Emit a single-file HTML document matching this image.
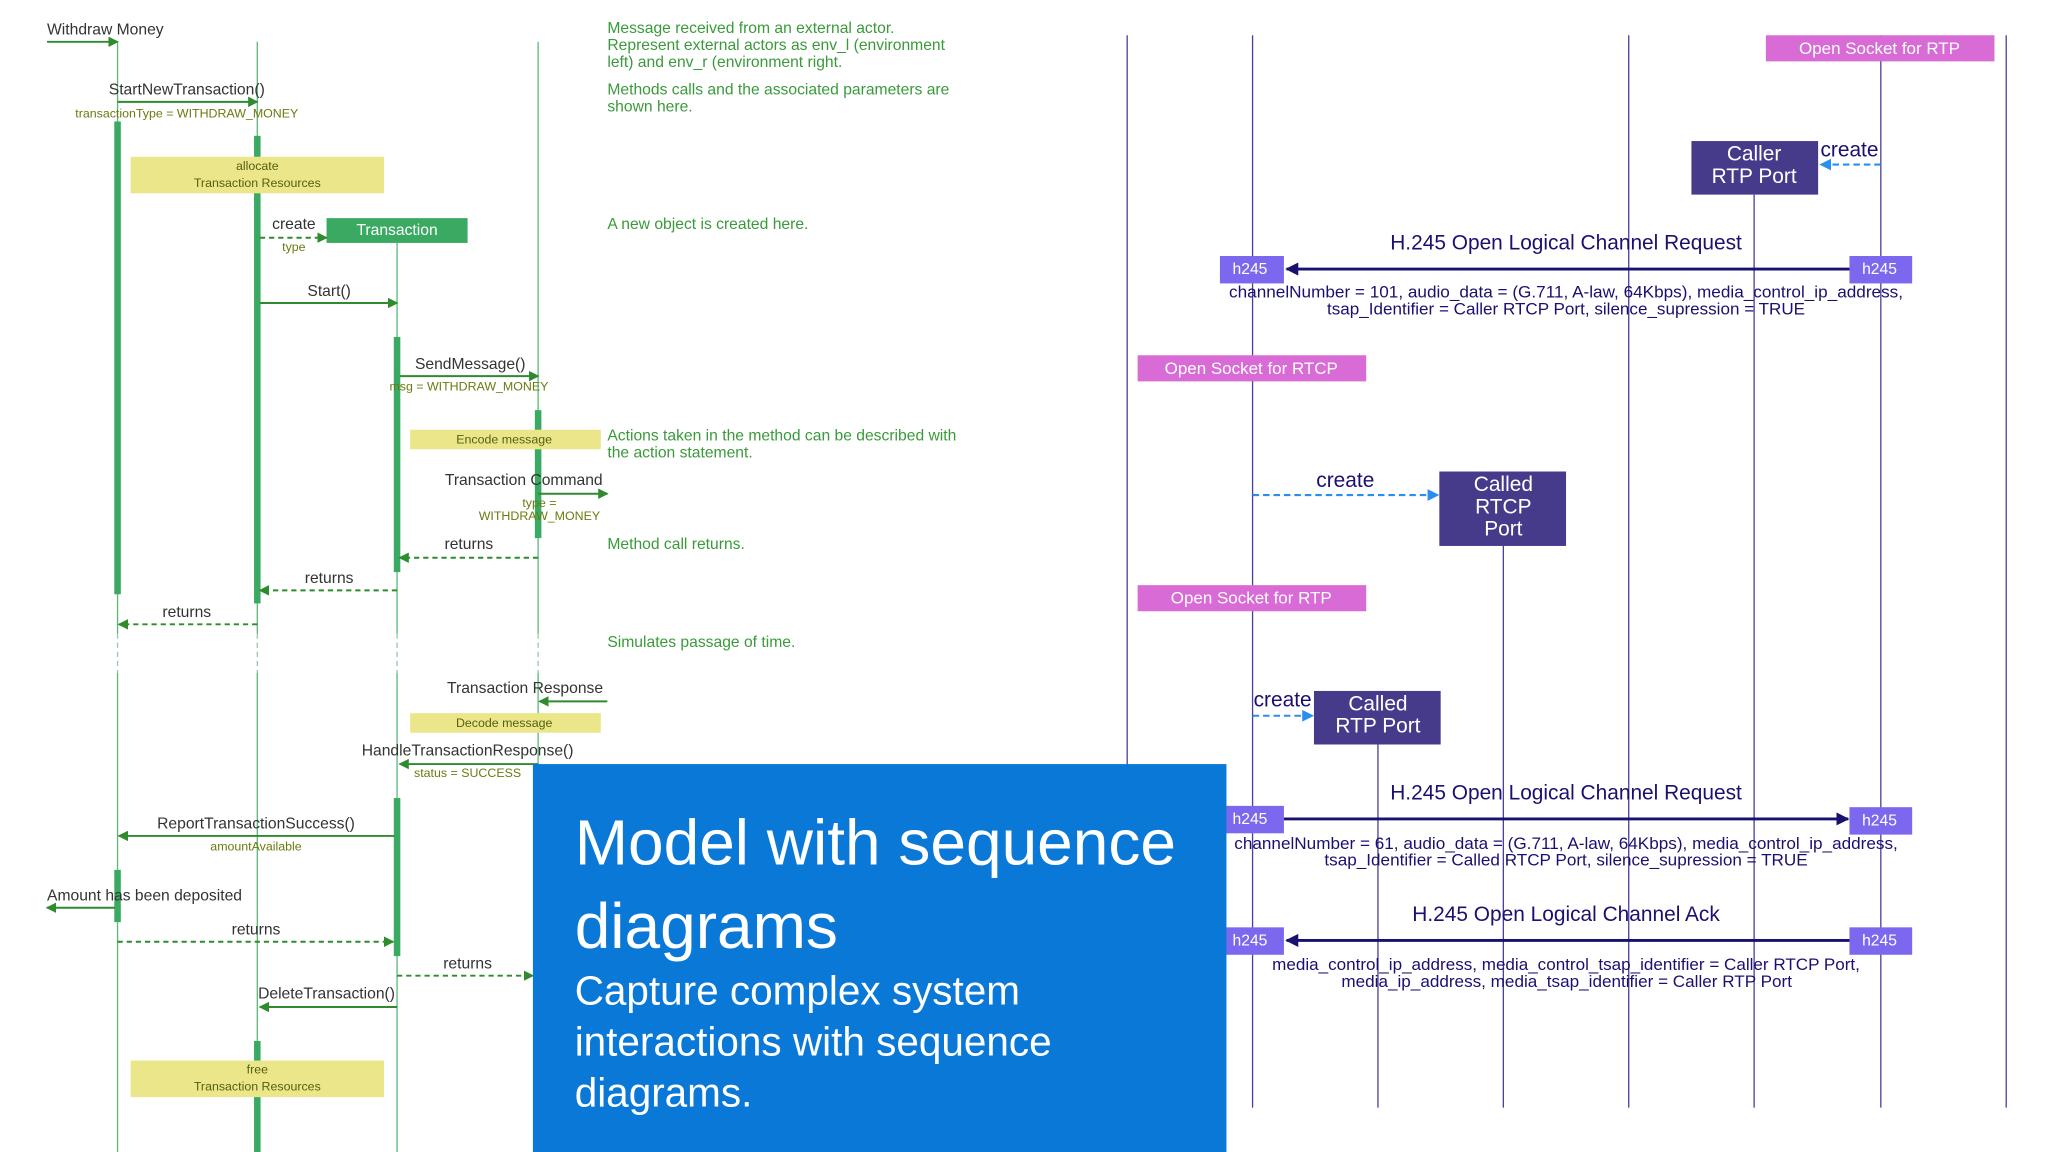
<!DOCTYPE html>
<html><head><meta charset="utf-8"><style>
html,body{margin:0;padding:0;background:#fff;width:2048px;height:1152px;overflow:hidden}
svg{display:block}
text{font-family:"Liberation Sans",sans-serif}
.g{fill:#333;font-size:12px}
.p{fill:#6b7a10;font-size:9.5px}
.n{fill:#3a9a3a;font-size:12px}
.b{fill:#1a1070;font-size:12.5px}
.w{fill:#fff}
</style></head><body>
<svg width="2048" height="1152" viewBox="0 0 1568 882" xmlns="http://www.w3.org/2000/svg">
<defs>
<marker id="ag" markerWidth="8" markerHeight="8" refX="7" refY="4" orient="auto" markerUnits="userSpaceOnUse"><path d="M0,0 L8,4 L0,8 z" fill="#2e8b2e"/></marker>
<marker id="an" markerWidth="10" markerHeight="10" refX="9" refY="5" orient="auto" markerUnits="userSpaceOnUse"><path d="M0,0 L10,5 L0,10 z" fill="#1a1070"/></marker>
<marker id="ab" markerWidth="9" markerHeight="9" refX="8" refY="4.5" orient="auto" markerUnits="userSpaceOnUse"><path d="M0,0 L9,4.5 L0,9 z" fill="#2a8ef0"/></marker>
</defs>
<rect width="1568" height="882" fill="#fff"/>

<g stroke="#5cb87a" stroke-width="1">
<line x1="90" y1="32" x2="90" y2="485"/><line x1="90" y1="515" x2="90" y2="882"/>
<line x1="197" y1="32" x2="197" y2="485"/><line x1="197" y1="515" x2="197" y2="882"/>
<line x1="304" y1="186" x2="304" y2="485"/><line x1="304" y1="515" x2="304" y2="882"/>
<line x1="412" y1="32" x2="412" y2="485"/><line x1="412" y1="515" x2="412" y2="585"/>
</g>
<g stroke="#9ac9a8" stroke-width="1" stroke-dasharray="4,3">
<line x1="90" y1="485" x2="90" y2="515"/><line x1="197" y1="485" x2="197" y2="515"/>
<line x1="304" y1="485" x2="304" y2="515"/><line x1="412" y1="485" x2="412" y2="515"/>
</g>
<g fill="#3aaa62">
<rect x="87.5" y="93" width="5" height="362"/><rect x="87.5" y="666" width="5" height="40"/>
<rect x="194.5" y="104" width="5" height="358"/><rect x="194.5" y="797" width="5" height="85"/>
<rect x="301.5" y="258" width="5" height="180"/><rect x="301.5" y="611" width="5" height="121"/>
<rect x="409.5" y="314" width="5" height="98"/>
</g>

<g fill="#ece68a">
<rect x="100" y="120" width="194" height="28"/><rect x="100" y="812" width="194" height="28"/>
<rect x="314" y="329" width="146" height="15"/><rect x="314" y="546" width="146" height="15"/>
</g>
<g text-anchor="middle" dominant-baseline="central" style="fill:#556010;font-size:9.5px">
<text x="197" y="127">allocate</text><text x="197" y="140">Transaction Resources</text>
<text x="197" y="819">free</text><text x="197" y="832">Transaction Resources</text>
<text x="386" y="336.5">Encode message</text><text x="386" y="553.5">Decode message</text>
</g>

<rect x="250" y="167" width="108" height="19" fill="#3aaa62"/>
<text x="304" y="176.5" class="w" font-size="12" text-anchor="middle" dominant-baseline="central">Transaction</text>

<g stroke="#2e8b2e" stroke-width="1.5" fill="none">
<line x1="36" y1="32" x2="90" y2="32" marker-end="url(#ag)"/>
<line x1="90" y1="78" x2="197" y2="78" marker-end="url(#ag)"/>
<line x1="199" y1="182" x2="250" y2="182" stroke-dasharray="4,3" marker-end="url(#ag)"/>
<line x1="199" y1="232" x2="304" y2="232" marker-end="url(#ag)"/>
<line x1="306" y1="288" x2="412" y2="288" marker-end="url(#ag)"/>
<line x1="412" y1="378" x2="465" y2="378" marker-end="url(#ag)"/>
<line x1="412" y1="427" x2="306" y2="427" stroke-dasharray="4,3" marker-end="url(#ag)"/>
<line x1="304" y1="452" x2="199" y2="452" stroke-dasharray="4,3" marker-end="url(#ag)"/>
<line x1="197" y1="478" x2="91" y2="478" stroke-dasharray="4,3" marker-end="url(#ag)"/>
<line x1="465" y1="537" x2="413" y2="537" marker-end="url(#ag)"/>
<line x1="412" y1="585" x2="306" y2="585" marker-end="url(#ag)"/>
<line x1="302" y1="640" x2="91" y2="640" marker-end="url(#ag)"/>
<line x1="88" y1="695" x2="36" y2="695" marker-end="url(#ag)"/>
<line x1="90" y1="721" x2="301" y2="721" stroke-dasharray="4,3" marker-end="url(#ag)"/>
<line x1="304" y1="747" x2="408" y2="747" stroke-dasharray="4,3" marker-end="url(#ag)"/>
<line x1="304" y1="771" x2="199" y2="771" marker-end="url(#ag)"/>
</g>

<g class="g" text-anchor="middle" dominant-baseline="central">
<text x="36" y="23" text-anchor="start">Withdraw Money</text>
<text x="143" y="69">StartNewTransaction()</text>
<text x="225" y="172">create</text>
<text x="252" y="223">Start()</text>
<text x="360" y="279">SendMessage()</text>
<text x="401" y="368">Transaction Command</text>
<text x="359" y="417">returns</text>
<text x="252" y="443">returns</text>
<text x="143" y="469">returns</text>
<text x="402" y="527">Transaction Response</text>
<text x="358" y="575">HandleTransactionResponse()</text>
<text x="196" y="631">ReportTransactionSuccess()</text>
<text x="36" y="686" text-anchor="start">Amount has been deposited</text>
<text x="196" y="712">returns</text>
<text x="358" y="738">returns</text>
<text x="250" y="761">DeleteTransaction()</text>
</g>
<g class="p" text-anchor="middle" dominant-baseline="central">
<text x="143" y="87">transactionType = WITHDRAW_MONEY</text>
<text x="225" y="189">type</text>
<text x="359" y="296">msg = WITHDRAW_MONEY</text>
<text x="413" y="385">type =</text>
<text x="413" y="395">WITHDRAW_MONEY</text>
<text x="358" y="592">status = SUCCESS</text>
<text x="196" y="648">amountAvailable</text>
</g>
<g class="n" dominant-baseline="central">
<text x="465" y="22">Message received from an external actor.</text>
<text x="465" y="35">Represent external actors as env_l (environment</text>
<text x="465" y="48">left) and env_r (environment right.</text>
<text x="465" y="69">Methods calls and the associated parameters are</text>
<text x="465" y="82">shown here.</text>
<text x="465" y="172">A new object is created here.</text>
<text x="465" y="334">Actions taken in the method can be described with</text>
<text x="465" y="347">the action statement.</text>
<text x="465" y="417">Method call returns.</text>
<text x="465" y="492">Simulates passage of time.</text>
</g>

<g stroke="#4a3f9a" stroke-width="1">
<line x1="863" y1="27" x2="863" y2="848"/>
<line x1="959" y1="27" x2="959" y2="848"/>
<line x1="1055" y1="570" x2="1055" y2="848"/>
<line x1="1151" y1="418" x2="1151" y2="848"/>
<line x1="1247" y1="27" x2="1247" y2="848"/>
<line x1="1343" y1="149" x2="1343" y2="848"/>
<line x1="1440" y1="27" x2="1440" y2="848"/>
<line x1="1536" y1="27" x2="1536" y2="848"/>
</g>
<g fill="#d96bd6">
<rect x="1352" y="27" width="175" height="20"/>
<rect x="871" y="272" width="175" height="20"/>
<rect x="871" y="448" width="175" height="20"/>
</g>
<g class="w" font-size="13" text-anchor="middle" dominant-baseline="central">
<text x="1439" y="37">Open Socket for RTP</text>
<text x="958" y="282">Open Socket for RTCP</text>
<text x="958" y="458">Open Socket for RTP</text>
</g>
<g fill="#463a8a">
<rect x="1295" y="108" width="97" height="41"/>
<rect x="1102" y="361" width="97" height="57"/>
<rect x="1006" y="529" width="97" height="41"/>
</g>
<g class="w" font-size="16" text-anchor="middle" dominant-baseline="central">
<text x="1343" y="118">Caller</text><text x="1343" y="135">RTP Port</text>
<text x="1151" y="371">Called</text><text x="1151" y="388">RTCP</text><text x="1151" y="405">Port</text>
<text x="1055" y="539">Called</text><text x="1055" y="556">RTP Port</text>
</g>
<g stroke="#2a8ef0" stroke-width="1.6" stroke-dasharray="5,3">
<line x1="1440" y1="126" x2="1394" y2="126" marker-end="url(#ab)"/>
<line x1="959" y1="379" x2="1101" y2="379" marker-end="url(#ab)"/>
<line x1="959" y1="548" x2="1005" y2="548" marker-end="url(#ab)"/>
</g>
<g fill="#1a1070" font-size="16" text-anchor="middle" dominant-baseline="central">
<text x="1416" y="115">create</text><text x="1030" y="368">create</text><text x="982" y="536">create</text>
<text x="1199" y="186">H.245 Open Logical Channel Request</text>
<text x="1199" y="607">H.245 Open Logical Channel Request</text>
<text x="1199" y="700">H.245 Open Logical Channel Ack</text>
</g>
<g stroke="#1a1070" stroke-width="2.2">
<line x1="1416" y1="206" x2="985" y2="206" marker-end="url(#an)"/>
<line x1="983" y1="627" x2="1415" y2="627" marker-end="url(#an)"/>
<line x1="1416" y1="720" x2="985" y2="720" marker-end="url(#an)"/>
</g>
<g class="b" dominant-baseline="central" lengthAdjust="spacingAndGlyphs">
<text x="941" y="224" textLength="516" lengthAdjust="spacingAndGlyphs">channelNumber = 101, audio_data = (G.711, A-law, 64Kbps), media_control_ip_address,</text>
<text x="1016" y="237" textLength="366" lengthAdjust="spacingAndGlyphs">tsap_Identifier = Caller RTCP Port, silence_supression = TRUE</text>
<text x="945" y="646" textLength="508" lengthAdjust="spacingAndGlyphs">channelNumber = 61, audio_data = (G.711, A-law, 64Kbps), media_control_ip_address,</text>
<text x="1014" y="659" textLength="370" lengthAdjust="spacingAndGlyphs">tsap_Identifier = Called RTCP Port, silence_supression = TRUE</text>
<text x="974" y="739" textLength="450" lengthAdjust="spacingAndGlyphs">media_control_ip_address, media_control_tsap_identifier = Caller RTCP Port,</text>
<text x="1027" y="752" textLength="345" lengthAdjust="spacingAndGlyphs">media_ip_address, media_tsap_identifier = Caller RTP Port</text>
</g>
<g fill="#7b68ee">
<rect x="934" y="196" width="49" height="21"/><rect x="1416" y="196" width="48" height="21"/>
<rect x="934" y="617" width="49" height="21"/><rect x="1416" y="618" width="48" height="21"/>
<rect x="934" y="710" width="49" height="21"/><rect x="1416" y="710" width="48" height="21"/>
</g>
<g class="w" font-size="12" text-anchor="middle" dominant-baseline="central">
<text x="957" y="206.5">h245</text><text x="1439" y="206.5">h245</text>
<text x="957" y="627.5">h245</text><text x="1439" y="628.5">h245</text>
<text x="957" y="720.5">h245</text><text x="1439" y="720.5">h245</text>
</g>

<rect x="408" y="585" width="531" height="297" fill="#0a78d7"/>
<g class="w" font-weight="300">
<text x="440" y="662" font-size="49">Model with sequence</text>
<text x="440" y="726" font-size="49">diagrams</text>
<text x="440" y="769" font-size="31">Capture complex system</text>
<text x="440" y="808" font-size="31">interactions with sequence</text>
<text x="440" y="847" font-size="31">diagrams.</text>
</g>
</svg>
</body></html>
